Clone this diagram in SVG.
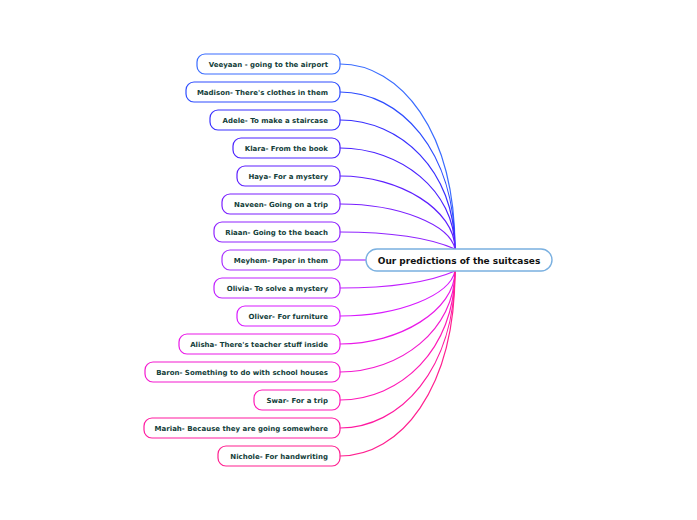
<svg xmlns="http://www.w3.org/2000/svg" width="697" height="520" viewBox="0 0 697 520">
<style>
.n rect{fill:#fff;stroke-width:1.2}
.n text{font-family:"DejaVu Sans",Verdana,sans-serif;font-weight:bold;font-size:7px;fill:#13403a;text-anchor:end}
.c path{fill:none;stroke-width:1.2}
#root rect{fill:#fff;stroke:#7ab0e0;stroke-width:1.4}
#root text{font-family:"DejaVu Sans",Verdana,sans-serif;font-weight:bold;font-size:9px;fill:#111;text-anchor:middle}
</style>
<rect width="697" height="520" fill="#fff"/>
<g class="c">
<path d="M340,64 C400,64 455,130 455,249" stroke="#3a6cff"/>
<path d="M340,92 C400,92 455,150 455,249" stroke="#2e4dff"/>
<path d="M340,120 C400,120 455,170 455,249" stroke="#3a30ff"/>
<path d="M340,148 C400,148 455,190 455,249" stroke="#4a22ff"/>
<path d="M340,176 C400,176 455,210 455,249" stroke="#5e20ff"/>
<path d="M340,204 C400,204 450,225 455,249" stroke="#7a20ff"/>
<path d="M340,232 C390,232 430,238 455,249" stroke="#9024ff"/>
<path d="M340,260 L366,260" stroke="#a830ff"/>
<path d="M340,288 C390,288 430,282 455,271" stroke="#c020ff"/>
<path d="M340,316 C400,316 450,295 455,271" stroke="#d81aff"/>
<path d="M340,344 C400,344 455,310 455,271" stroke="#ea1ae8"/>
<path d="M340,372 C400,372 455,330 455,271" stroke="#f41ad0"/>
<path d="M340,400 C400,400 455,350 455,271" stroke="#ff1ab8"/>
<path d="M340,428 C400,428 455,370 455,271" stroke="#ff1aa0"/>
<path d="M340,456 C400,456 455,390 455,271" stroke="#ff2090"/>
</g>
<g id="root"><rect x="366" y="249" width="186" height="22" rx="11"/><text x="459" y="263.5">Our predictions of the suitcases</text></g>
<g id="n1" class="n"><rect x="197" y="54" width="143" height="20" rx="8" stroke="#3a6cff"/><text x="328" y="66.7">Veeyaan - going to the airport</text></g>
<g id="n2" class="n"><rect x="186" y="82" width="154" height="20" rx="8" stroke="#2e4dff"/><text x="328" y="94.7">Madison- There's clothes in them</text></g>
<g id="n3" class="n"><rect x="210" y="110" width="130" height="20" rx="8" stroke="#3a30ff"/><text x="328" y="122.7">Adele- To make a staircase</text></g>
<g id="n4" class="n"><rect x="233" y="138" width="107" height="20" rx="8" stroke="#4a22ff"/><text x="328" y="150.7">Klara- From the book</text></g>
<g id="n5" class="n"><rect x="237" y="166" width="103" height="20" rx="8" stroke="#5e20ff"/><text x="328" y="178.7">Haya- For a mystery</text></g>
<g id="n6" class="n"><rect x="222" y="194" width="118" height="20" rx="8" stroke="#7a20ff"/><text x="328" y="206.7">Naveen- Going on a trip</text></g>
<g id="n7" class="n"><rect x="214" y="222" width="126" height="20" rx="8" stroke="#9024ff"/><text x="328" y="234.7">Riaan- Going to the beach</text></g>
<g id="n8" class="n"><rect x="222" y="250" width="118" height="20" rx="8" stroke="#a830ff"/><text x="328" y="262.7">Meyhem- Paper in them</text></g>
<g id="n9" class="n"><rect x="214" y="278" width="126" height="20" rx="8" stroke="#c020ff"/><text x="328" y="290.7">Olivia- To solve a mystery</text></g>
<g id="n10" class="n"><rect x="237" y="306" width="103" height="20" rx="8" stroke="#d81aff"/><text x="328" y="318.7">Oliver- For furniture</text></g>
<g id="n11" class="n"><rect x="179" y="334" width="161" height="20" rx="8" stroke="#ea1ae8"/><text x="328" y="346.7">Alisha- There's teacher stuff inside</text></g>
<g id="n12" class="n"><rect x="145" y="362" width="195" height="20" rx="8" stroke="#f41ad0"/><text x="328" y="374.7">Baron- Something to do with school houses</text></g>
<g id="n13" class="n"><rect x="254" y="390" width="86" height="20" rx="8" stroke="#ff1ab8"/><text x="328" y="402.7">Swar- For a trip</text></g>
<g id="n14" class="n"><rect x="144" y="418" width="196" height="20" rx="8" stroke="#ff1aa0"/><text x="328" y="430.7">Mariah- Because they are going somewhere</text></g>
<g id="n15" class="n"><rect x="218" y="446" width="122" height="20" rx="8" stroke="#ff2090"/><text x="328" y="458.7">Nichole- For handwriting</text></g>
</svg>
